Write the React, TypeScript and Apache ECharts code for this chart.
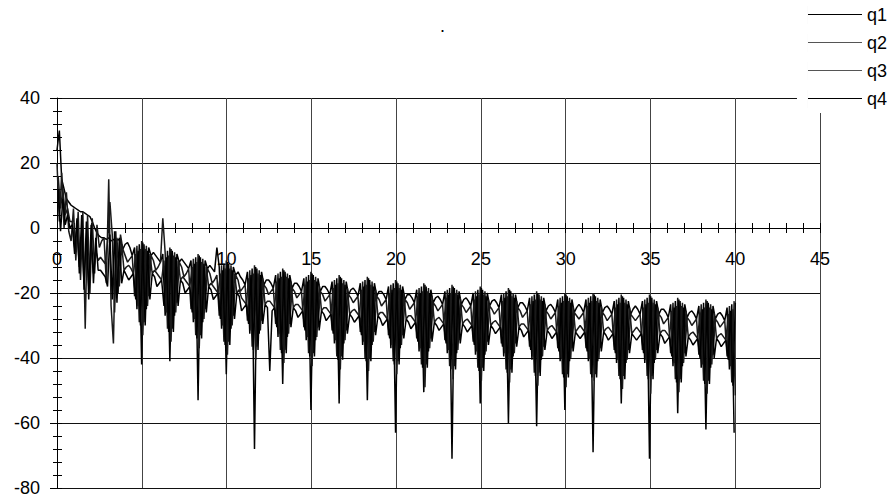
import React, { useEffect, useRef } from "react";
import * as echarts from "echarts";

// Sample spacing along x: twelve samples per ripple lobe (lobe period 1.664).
const SAMPLE_STEP = 1.664 / 12;
// q3 and q4 are sampled half a step later than q1 and q2.
const SAMPLE_PHASE = [0, 0, 0.5, 0.5];

const SERIES_NAMES = ["q1", "q2", "q3", "q4"];
const SERIES_COLORS = ["#000000", "#1a1a1a", "#1a1a1a", "#000000"];
const LEGEND_COLORS = ["#000000", "#555555", "#555555", "#000000"];

const X_TICKS = [0, 5, 10, 15, 20, 25, 30, 35, 40, 45];
const Y_TICKS = [-80, -60, -40, -20, 0, 20, 40];

const q1 = [
  24, 30, 15, 12, 9, 8, 7, 6.5, 6, 5.5, 5, 5, 4.5, 4, 3.5, 2, 0, -1.5, -2.5, -3, -3, -3.5, -3, -4, -3.5, -4, -3.5, -4, -6.5, -5,
  -4.5, -6, -8.5, -6, -25, -5, -42, -5, -25, -6, -8.5, -7.5,
  -8.5, -9.5, -10.5, -8, -27, -7, -41, -7, -27, -8, -10.5, -9.5,
  -10.5, -11.5, -12.5, -10, -29, -9, -53, -9, -29, -10, -12.5, -11.5,
  -12.5, -13.5, -6, -12, -31, -11, -45, -11, -31, -12, -14.5, -13.5,
  -15, -16, -17.5, -13.5, -32.5, -12.5, -68, -12.5, -32.5, -13.5, -17.5, -16,
  -16, -17, -18.5, -14.5, -33.5, -13.5, -48, -13.5, -33.5, -14.5, -18.5, -17,
  -17, -18, -19.5, -15.5, -34.5, -14.5, -56, -14.5, -34.5, -15.5, -19.5, -18,
  -18, -19, -20.5, -16.5, -35.5, -15.5, -54, -15.5, -35.5, -16.5, -20.5, -19,
  -18.5, -19.5, -21, -17, -36, -16, -53, -16, -36, -17, -21, -19.5,
  -19.5, -20.5, -22, -18, -37, -17, -63, -17, -37, -18, -22, -20.5,
  -20.5, -21.5, -23, -19, -38, -18, -50.5, -18, -38, -19, -23, -21.5,
  -21, -22, -23.5, -19.5, -38.5, -18.5, -71, -18.5, -38.5, -19.5, -23.5, -22,
  -21.5, -22.5, -24, -20, -39, -19, -54, -19, -39, -20, -24, -22.5,
  -22, -23, -24.5, -20.5, -39.5, -19.5, -60, -19.5, -39.5, -20.5, -24.5, -23,
  -23, -24, -25.5, -21.5, -40.5, -20.5, -61, -20.5, -40.5, -21.5, -25.5, -24,
  -23.5, -24.5, -26, -22, -41, -21, -56, -21, -41, -22, -26, -24.5,
  -23.5, -24.5, -26, -22, -41, -21, -69, -21, -41, -22, -26, -24.5,
  -24, -25, -26.5, -22.5, -41.5, -21.5, -54, -21.5, -41.5, -22.5, -26.5, -25,
  -24, -25, -26.5, -22.5, -41.5, -21.5, -71, -21.5, -41.5, -22.5, -26.5, -25,
  -25, -26, -27.5, -23.5, -42.5, -22.5, -57, -22.5, -42.5, -23.5, -27.5, -26,
  -25.5, -26.5, -28, -24, -43, -23, -62, -23, -43, -24, -28, -26.5,
  -26, -27, -28.5, -24.5, -43.5, -23.5, -63,
];

const q2 = [
  20, 2, 17, 0, 11, -1, -4, 6, -10, 5, -16, 5, -31, 4, -20, 3, -14, 1, -6, -4, -3, -17, 15, -24, -35.5, -1, -20, -2, -6.5, -8.5,
  -10.5, -9.5, -8.5, -21, -5.5, -29, -4, -29, -5.5, -21, -8.5, -10,
  -13, -12, -10.5, 3, -7.5, -31, -6, -31, -7.5, -23, -10.5, -12,
  -15, -14, -12.5, -25, -9.5, -33, -8, -33, -9.5, -25, -12.5, -14,
  -17, -16, -14.5, -27, -11.5, -35, -10, -35, -11.5, -27, -14.5, -16,
  -19.5, -18.5, -17.5, -28.5, -13, -36.5, -11.5, -36.5, -13, -28.5, -17.5, -18.5,
  -20.5, -19.5, -18.5, -29.5, -14, -37.5, -12.5, -37.5, -14, -29.5, -18.5, -19.5,
  -21.5, -20.5, -19.5, -30.5, -15, -38.5, -13.5, -38.5, -15, -30.5, -19.5, -20.5,
  -22.5, -21.5, -20.5, -31.5, -16, -39.5, -14.5, -39.5, -16, -31.5, -20.5, -21.5,
  -23, -22, -21, -32, -16.5, -40, -15, -40, -16.5, -32, -21, -22,
  -24, -23, -22, -33, -17.5, -41, -16, -41, -17.5, -33, -22, -23,
  -25, -24, -23, -34, -18.5, -42, -17, -42, -18.5, -34, -23, -24,
  -25.5, -24.5, -23.5, -34.5, -19, -42.5, -17.5, -42.5, -19, -34.5, -23.5, -24.5,
  -26, -25, -24, -35, -19.5, -43, -18, -43, -19.5, -35, -24, -25,
  -26.5, -25.5, -24.5, -35.5, -20, -43.5, -18.5, -43.5, -20, -35.5, -24.5, -25.5,
  -27.5, -26.5, -25.5, -36.5, -21, -44.5, -19.5, -44.5, -21, -36.5, -25.5, -26.5,
  -28, -27, -26, -37, -21.5, -45, -20, -45, -21.5, -37, -26, -27,
  -28, -27, -26, -37, -21.5, -45, -20, -45, -21.5, -37, -26, -27,
  -28.5, -27.5, -26.5, -37.5, -22, -45.5, -20.5, -45.5, -22, -37.5, -26.5, -27.5,
  -28.5, -27.5, -26.5, -37.5, -22, -45.5, -20.5, -45.5, -22, -37.5, -26.5, -27.5,
  -29.5, -28.5, -27.5, -38.5, -23, -46.5, -21.5, -46.5, -23, -38.5, -27.5, -28.5,
  -30, -29, -28, -39, -23.5, -47, -22, -47, -23.5, -39, -28, -29,
  -30.5, -29.5, -28.5, -39.5, -24, -47.5, -22.5,
];

const q3 = [
  16, 6, 12, 4, 6, 2, 2, -6, 0, -12, -2, -17, -3, -18, -5, -14, -7, -10, -9, -10, -11, -4, 8, -2, -26, -3, -18, -5, -13, -12,
  -11.5, -12.5, -14, -8, -24, -6.5, -33, -6.5, -24, -8, -14, -13,
  -14, -15, -16, -10, -26, -8.5, -35, -8.5, -26, -10, -16, -15,
  -16, -17, -18, -12, -28, -10.5, -37, -10.5, -28, -12, -18, -17,
  -18, -19, -20, -14, -30, -12.5, -39, -12.5, -30, -14, -20, -19,
  -21.5, -22.5, -23.5, -15.5, -31.5, -14, -40.5, -14, -31.5, -15.5, -23.5, -22.5,
  -22.5, -23.5, -24.5, -16.5, -32.5, -15, -41.5, -15, -32.5, -16.5, -24.5, -23.5,
  -23.5, -24.5, -25.5, -17.5, -33.5, -16, -42.5, -16, -33.5, -17.5, -25.5, -24.5,
  -24.5, -25.5, -26.5, -18.5, -34.5, -17, -43.5, -17, -34.5, -18.5, -26.5, -25.5,
  -25, -26, -27, -19, -35, -17.5, -44, -17.5, -35, -19, -27, -26,
  -26, -27, -28, -20, -36, -18.5, -45, -18.5, -36, -20, -28, -27,
  -27, -28, -29, -21, -37, -19.5, -49, -19.5, -37, -21, -29, -28,
  -27.5, -28.5, -29.5, -21.5, -37.5, -20, -46.5, -20, -37.5, -21.5, -29.5, -28.5,
  -28, -29, -30, -22, -38, -20.5, -47, -20.5, -38, -22, -30, -29,
  -28.5, -29.5, -30.5, -22.5, -38.5, -21, -47.5, -21, -38.5, -22.5, -30.5, -29.5,
  -29.5, -30.5, -31.5, -23.5, -39.5, -22, -48.5, -22, -39.5, -23.5, -31.5, -30.5,
  -30, -31, -32, -24, -40, -22.5, -49, -22.5, -40, -24, -32, -31,
  -30, -31, -32, -24, -40, -22.5, -47, -22.5, -40, -24, -32, -31,
  -30.5, -31.5, -32.5, -24.5, -40.5, -23, -49.5, -23, -40.5, -24.5, -32.5, -31.5,
  -30.5, -31.5, -32.5, -24.5, -40.5, -23, -51, -23, -40.5, -24.5, -32.5, -31.5,
  -31.5, -32.5, -33.5, -25.5, -41.5, -24, -50.5, -24, -41.5, -25.5, -33.5, -32.5,
  -32, -33, -34, -26, -42, -24.5, -51, -24.5, -42, -26, -34, -33,
  -32.5, -33.5, -34.5, -26.5, -42.5, -25, -51.5,
];

const q4 = [
  12, -1, 9, 1, 4, 0, 1, -8, 3, -14, 4, -19, 2, -22, 1, -17, -3, -13, -13, -14, -15, -18, -2, -22, -1, -23, -3, -17, -13, -14.5,
  -16, -15, -14, -22, -7, -30, -4.5, -30, -7, -22, -14, -15,
  -18, -17, -16, -24, -9, -32, -6.5, -32, -9, -24, -16, -17,
  -20, -19, -18, -26, -11, -34, -8.5, -34, -11, -26, -18, -19,
  -22, -21, -20, -28, -13, -36, -10.5, -36, -13, -28, -20, -21,
  -25.5, -24.5, -23.5, -29.5, -14.5, -37.5, -12, -37.5, -14.5, -29.5, -23.5, -24.5,
  -44, -25.5, -24.5, -30.5, -15.5, -38.5, -13, -38.5, -15.5, -30.5, -24.5, -25.5,
  -27.5, -26.5, -25.5, -31.5, -16.5, -39.5, -14, -39.5, -16.5, -31.5, -25.5, -26.5,
  -28.5, -27.5, -26.5, -32.5, -17.5, -40.5, -15, -40.5, -17.5, -32.5, -26.5, -27.5,
  -29, -28, -27, -33, -18, -41, -15.5, -41, -18, -33, -27, -28,
  -30, -29, -28, -34, -19, -42, -16.5, -42, -19, -34, -28, -29,
  -31, -30, -29, -35, -20, -43, -17.5, -43, -20, -35, -29, -30,
  -31.5, -30.5, -29.5, -35.5, -20.5, -43.5, -18, -43.5, -20.5, -35.5, -29.5, -30.5,
  -32, -31, -30, -36, -21, -44, -18.5, -44, -21, -36, -30, -31,
  -32.5, -31.5, -30.5, -36.5, -21.5, -44.5, -19, -44.5, -21.5, -36.5, -30.5, -31.5,
  -33.5, -32.5, -31.5, -37.5, -22.5, -45.5, -20, -45.5, -22.5, -37.5, -31.5, -32.5,
  -34, -33, -32, -38, -23, -46, -20.5, -46, -23, -38, -32, -33,
  -34, -33, -32, -38, -23, -46, -20.5, -46, -23, -38, -32, -33,
  -34.5, -33.5, -32.5, -38.5, -23.5, -46.5, -21, -46.5, -23.5, -38.5, -32.5, -33.5,
  -34.5, -33.5, -32.5, -38.5, -23.5, -46.5, -21, -46.5, -23.5, -38.5, -32.5, -33.5,
  -35.5, -34.5, -33.5, -39.5, -24.5, -47.5, -22, -47.5, -24.5, -39.5, -33.5, -34.5,
  -36, -35, -34, -40, -25, -48, -22.5, -48, -25, -40, -34, -35,
  -36.5, -35.5, -34.5, -40.5, -25.5, -48.5, -23,
];

const SERIES_VALUES = [q1, q2, q3, q4];

const FONT = "'Liberation Sans', Arial, Helvetica, sans-serif";

// Legend swatch: a 1px rule in a 54x18 box (the zero-width sliver keeps the box height).
const LEGEND_ICON = "path://M0,0h0.01v18h-0.01z M0,8h54v1h-54z";

export default function App() {
  const ref = useRef<HTMLDivElement>(null);

  useEffect(() => {
    if (!ref.current) return;
    const chart = echarts.init(ref.current, null, { renderer: "svg" });

    const toPairs = (vals: number[], phase: number) =>
      vals.map((v, i) => [(i + phase) * SAMPLE_STEP, v]);

    const gridTop = 98;
    const gridBottom = 14;
    const gridHeight = 502 - gridTop - gridBottom;
    const yMin = Y_TICKS[0];
    const yMax = Y_TICKS[Y_TICKS.length - 1];
    // Distance of the y = 0 line above the bottom edge of the plot.
    const zeroLift = (gridHeight * (0 - yMin)) / (yMax - yMin);

    const xBase = {
      type: "value" as const,
      min: X_TICKS[0],
      max: X_TICKS[X_TICKS.length - 1],
      interval: 5,
      position: "bottom" as const,
      offset: -zeroLift,
    };
    const yBase = {
      type: "value" as const,
      min: yMin,
      max: yMax,
      interval: 20,
      position: "left" as const,
    };

    chart.setOption({
      animation: false,
      backgroundColor: "#ffffff",
      title: {
        text: ".",
        left: 440,
        top: 17,
        padding: 0,
        textStyle: { fontSize: 18, fontWeight: "normal", color: "#000", fontFamily: FONT },
      },
      legend: {
        data: SERIES_NAMES.map((name, k) => ({ name, itemStyle: { color: LEGEND_COLORS[k] } })),
        orient: "vertical",
        right: 0,
        top: 0,
        padding: [6, 6, 5, 11],
        itemGap: 10,
        itemWidth: 54,
        itemHeight: 18,
        icon: LEGEND_ICON,
        backgroundColor: "#ffffff",
        selectedMode: false,
        textStyle: { fontSize: 18, color: "#000", fontFamily: FONT },
      },
      grid: {
        left: 57,
        right: 73,
        top: gridTop,
        bottom: gridBottom,
        containLabel: false,
        outerBoundsMode: "none",
      },
      xAxis: [
        {
          ...xBase,
          axisLine: { show: true, onZero: false, lineStyle: { color: "#000", width: 1 } },
          axisTick: { show: true, length: 5, lineStyle: { color: "#000", width: 1 } },
          minorTick: { show: true, splitNumber: 5, length: 5, lineStyle: { color: "#000", width: 1 } },
          axisLabel: { show: true, fontSize: 18, color: "#000", fontFamily: FONT, margin: 22 },
          splitLine: { show: true, lineStyle: { color: "#444", width: 1 } },
        },
        {
          ...xBase,
          axisLine: { show: true, onZero: false, lineStyle: { color: "#000", width: 1 } },
          axisTick: { show: true, inside: true, length: 5, lineStyle: { color: "#000", width: 1 } },
          minorTick: { show: true, splitNumber: 5, length: 5, lineStyle: { color: "#000", width: 1 } },
          axisLabel: { show: false },
          splitLine: { show: false },
        },
      ],
      yAxis: [
        {
          ...yBase,
          axisLine: { show: true, onZero: false, lineStyle: { color: "#000", width: 1 } },
          axisTick: { show: true, length: 7, lineStyle: { color: "#000", width: 1 } },
          minorTick: { show: true, splitNumber: 5, length: 4, lineStyle: { color: "#000", width: 1 } },
          axisLabel: { show: true, fontSize: 18, color: "#000", fontFamily: FONT, margin: 17 },
          splitLine: { show: true, lineStyle: { color: "#111", width: 1 } },
        },
        {
          ...yBase,
          axisLine: { show: false, onZero: false },
          axisTick: { show: true, inside: true, length: 5, lineStyle: { color: "#000", width: 1 } },
          minorTick: { show: true, splitNumber: 5, length: 5, lineStyle: { color: "#000", width: 1 } },
          axisLabel: { show: false },
          splitLine: { show: false },
        },
      ],
      series: SERIES_NAMES.map((name, k) => ({
        name,
        type: "line",
        xAxisIndex: 0,
        yAxisIndex: 0,
        data: toPairs(SERIES_VALUES[k], SAMPLE_PHASE[k]),
        symbol: "none",
        showSymbol: false,
        silent: true,
        color: SERIES_COLORS[k],
        lineStyle: { color: SERIES_COLORS[k], width: 1.5 },
      })),
    });

    return () => chart.dispose();
  }, []);

  return (
    <div
      ref={ref}
      style={{ position: "absolute", left: 0, top: 0, width: 893, height: 502, background: "#fff" }}
    />
  );
}
